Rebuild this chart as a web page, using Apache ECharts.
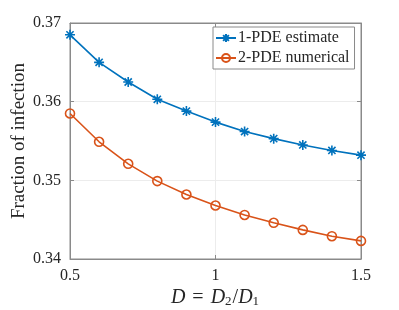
<!DOCTYPE html>
<html>
<head>
<meta charset="utf-8">
<script src="https://cdn.jsdelivr.net/npm/echarts@6/dist/echarts.min.js"></script>
<style>html,body{margin:0;padding:0;background:#fff}#c{width:399px;height:310px}</style>
</head>
<body>
<div id="c"></div>
<script>
var xValues = [0.5, 0.6, 0.7, 0.8, 0.9, 1.0, 1.1, 1.2, 1.3, 1.4, 1.5];
var estimate = [0.3685, 0.3650, 0.3625, 0.3603, 0.3588, 0.3574, 0.3562, 0.3553, 0.3545, 0.3538, 0.3532];
var numerical = [0.3585, 0.3549, 0.3521, 0.3499, 0.3482, 0.3468, 0.3456, 0.3446, 0.3437, 0.3429, 0.3423];
var seriesNames = ['1-PDE estimate', '2-PDE numerical'];

var FONT = 'Liberation Serif';
var TXT = '#262626';
var AX = '#8a8a8a';
var asterisk = 'path://M0,-5L0,5M-5,0L5,0M-3.6,-3.6L3.6,3.6M-3.6,3.6L3.6,-3.6';

function pairs(ys) { return xValues.map(function (x, i) { return [x, ys[i]]; }); }

var chart = echarts.init(document.getElementById('c'));
chart.setOption({
  animation: false,
  backgroundColor: '#fff',
  grid: { left: 70, right: 38, top: 23, bottom: 51, show: true, borderColor: AX, borderWidth: 1, containLabel: false, outerBoundsMode: 'none' },
  legend: {
    orient: 'vertical', left: 213, top: 27,
    backgroundColor: '#fff', borderColor: AX, borderWidth: 1,
    padding: [3, 5, 3, 2], itemGap: 4, itemWidth: 20, itemHeight: 10,
    textStyle: { fontFamily: FONT, fontSize: 16, color: TXT, padding: [0, 0, 0, -3] },
    data: seriesNames
  },
  xAxis: [{
    type: 'value', min: 0.5, max: 1.5, interval: 0.5,
    axisLine: { lineStyle: { color: AX } },
    axisTick: { inside: true, length: 4, lineStyle: { color: AX } },
    splitLine: { show: true, lineStyle: { color: '#ececec' } },
    axisLabel: { fontFamily: FONT, fontSize: 16, color: TXT, margin: 9 },
    name: '{i|D}{e|=}{i|D}{s|2}/{i|D}{s|1}', nameLocation: 'middle', nameGap: 29, nameMoveOverlap: false,
    nameTextStyle: {
      fontFamily: FONT, fontSize: 20, color: TXT,
      rich: {
        i: { fontFamily: FONT, fontStyle: 'italic', fontSize: 20, color: TXT },
        e: { fontFamily: FONT, fontSize: 20, color: TXT, padding: [0, 7, 0, 7] },
        s: { fontFamily: FONT, fontSize: 13, color: TXT, verticalAlign: 'bottom', padding: [7, 1, 0, 0] }
      }
    }
  }, {
    type: 'value', position: 'top', min: 0.5, max: 1.5, interval: 0.5,
    axisLine: { show: true, lineStyle: { color: AX } },
    axisTick: { inside: true, length: 4, lineStyle: { color: AX } },
    axisLabel: { show: false }, splitLine: { show: false }
  }],
  yAxis: [{
    type: 'value', min: 0.34, max: 0.37, interval: 0.01,
    axisLine: { show: true, lineStyle: { color: AX } },
    axisTick: { show: true, inside: true, length: 4, lineStyle: { color: AX } },
    splitLine: { show: true, lineStyle: { color: '#ececec' } },
    axisLabel: { fontFamily: FONT, fontSize: 16, color: TXT, margin: 9, formatter: function (v) { return v.toFixed(2); } },
    name: 'Fraction of infection', nameLocation: 'middle', nameGap: 41, nameMoveOverlap: false,
    nameTextStyle: { fontFamily: FONT, fontSize: 19, color: TXT }
  }, {
    type: 'value', position: 'right', min: 0.34, max: 0.37, interval: 0.01,
    axisLine: { show: true, lineStyle: { color: AX } },
    axisTick: { show: true, inside: true, length: 4, lineStyle: { color: AX } },
    axisLabel: { show: false }, splitLine: { show: false }
  }],
  series: [{
    name: seriesNames[0], type: 'line', data: pairs(estimate),
    symbol: asterisk, symbolSize: 10, showAllSymbol: true,
    lineStyle: { color: '#0072BD', width: 1.6 },
    itemStyle: { color: '#0072BD', borderColor: '#0072BD', borderWidth: 1.6 }
  }, {
    name: seriesNames[1], type: 'line', data: pairs(numerical),
    symbol: 'circle', symbolSize: 9, showAllSymbol: true,
    lineStyle: { color: '#D95319', width: 1.6 },
    itemStyle: { color: 'rgba(255,255,255,0)', borderColor: '#D95319', borderWidth: 1.6 }
  }]
});
</script>
</body>
</html>
